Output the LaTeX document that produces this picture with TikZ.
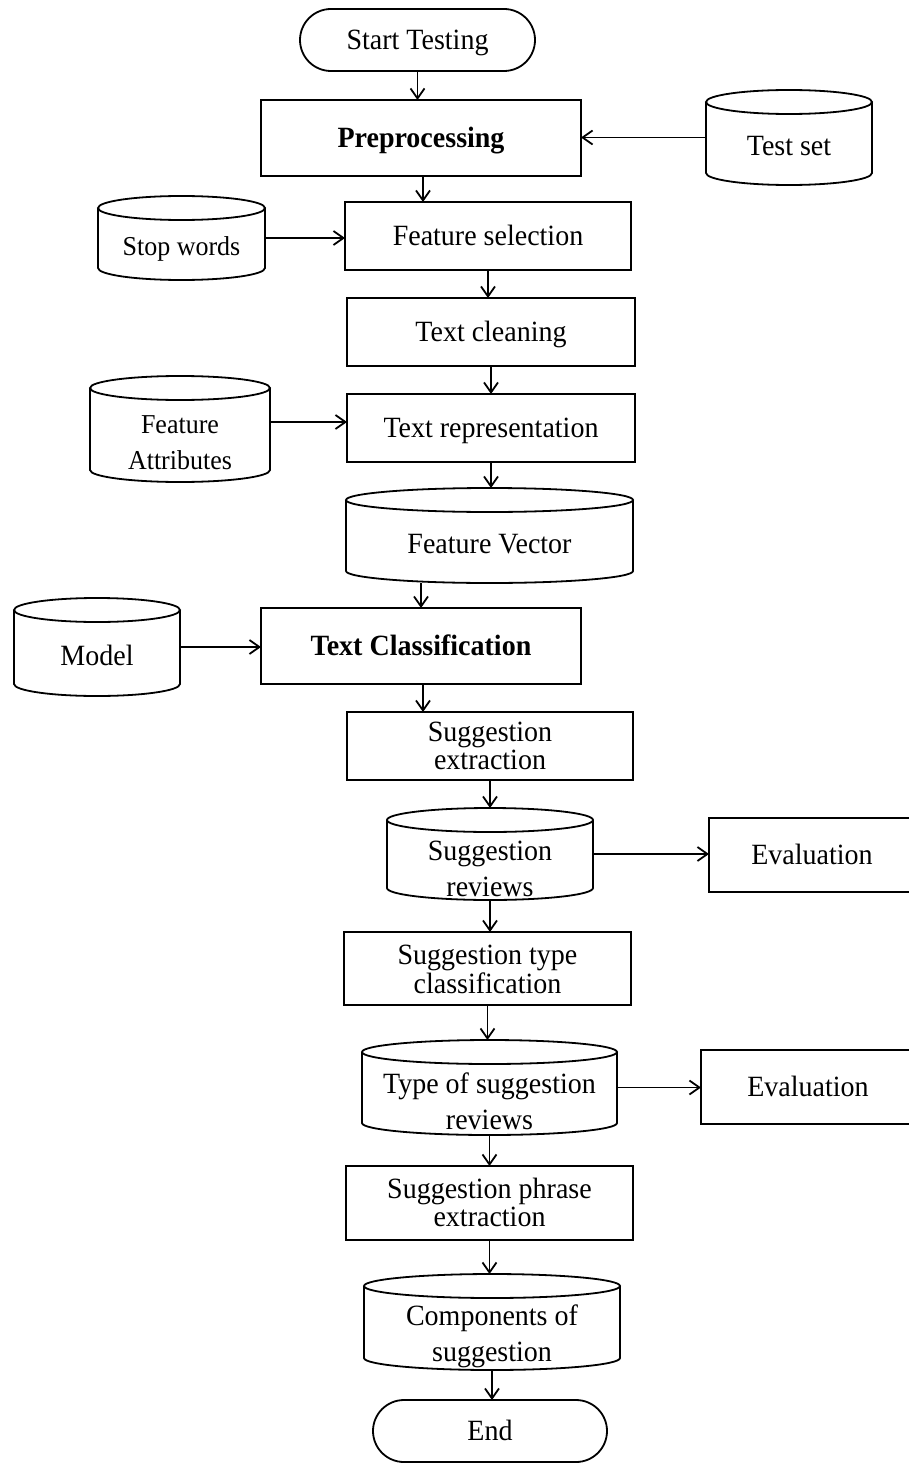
\documentclass[tikz,border=0pt]{standalone}
\usepackage{fontspec}
\usepackage{graphicx}
\setmainfont{Liberation Serif}
\usetikzlibrary{arrows.meta}

% text lines, slightly tall, first baseline on top
\newcommand\tx[1]{\scalebox{1}[1.05]{\begin{tabular}[t]{@{}c@{}}#1\end{tabular}}}

% storage drum: name, cx, cy, width, height, text offset, text style, text
\newcommand\drum[8]{%
  \node[drumbox, minimum width=#4pt, minimum height=#5pt] (#1) at (#2,#3) {};
  \draw[outline] ({#2},{#3-#5/2+12}) ellipse [x radius={#4/2}, y radius=12];
  \draw[outline] ({#2-#4/2},{#3-#5/2+12}) -- ({#2-#4/2},{#3+#5/2-12})
     arc[start angle=180, end angle=0, x radius={#4/2}, y radius=12]
     -- ({#2+#4/2},{#3-#5/2+12});
  \node[drumtext, #7] (#1-t) at (#2,{#3+#6}) {\tx{#8}};
}

\begin{document}
\begin{tikzpicture}[x=1pt, y=-1pt,
  outline/.style={line width=1.8pt, draw=black},
  drumbox/.style={inner sep=0pt, outer sep=0pt},
  drumtext/.style={inner sep=0pt, text height=19pt, text depth=0pt,
     font=\fontsize{28}{34}\selectfont},
  twolines/.style={text depth=35.7pt},
  small/.style={font=\fontsize{26}{34}\selectfont, text height=18pt},
  procbox/.style={draw, line width=1.8pt, inner sep=0pt, outer sep=0pt,
     text height=19pt, text depth=0pt, font=\fontsize{28}{26.5}\selectfont},
  pair/.style={text depth=27.8pt},
  heavy/.style={font=\fontsize{28}{26.5}\selectfont\bfseries},
  termbox/.style={procbox, rounded corners=31pt, minimum width=235pt, minimum height=62pt},
  flow/.style={line width=1.8pt, -{Straight Barb[length=10pt, width=14pt]}}
]
\useasboundingbox (0,0) rectangle (909,1463);

% terminals
\node[termbox] (start) at (417.5,40) {\tx{Start Testing}};
\node[termbox, minimum width=234pt] (end) at (490,1431) {\tx{End}};

% process boxes
\node[procbox, heavy, minimum width=320pt, minimum height=76pt] (pre) at (421,138) {\tx{Preprocessing}};
\node[procbox, minimum width=286pt, minimum height=68pt] (fs) at (488,236) {\tx{Feature selection}};
\node[procbox, minimum width=288pt, minimum height=68pt] (tc) at (491,332) {\tx{Text cleaning}};
\node[procbox, minimum width=288pt, minimum height=68pt] (tr) at (491,428) {\tx{Text representation}};
\node[procbox, heavy, minimum width=320pt, minimum height=76pt] (tcl) at (421,646) {\tx{Text Classification}};
\node[procbox, pair, minimum width=286pt, minimum height=68pt] (se) at (490,746) {\tx{Suggestion\\extraction}};
\node[procbox, minimum width=206pt, minimum height=74pt] (ev1) at (812,855) {\tx{Evaluation}};
\node[procbox, pair, minimum width=287pt, minimum height=73pt] (stc) at (487.5,968.5) {\tx{Suggestion type\\classification}};
\node[procbox, minimum width=214pt, minimum height=74pt] (ev2) at (808,1087) {\tx{Evaluation}};
\node[procbox, pair, minimum width=287pt, minimum height=74pt] (spe) at (489.5,1203) {\tx{Suggestion phrase\\extraction}};

% data stores
\drum{ts}{789}{137.5}{166}{95}{8.5}{}{Test set}
\drum{sw}{181.5}{238}{167}{84}{8}{small}{Stop words}
\drum{fa}{180}{429}{180}{106}{13.5}{small, twolines}{Feature\\Attributes}
\drum{fv}{489.5}{535.5}{287}{95}{8.5}{}{Feature Vector}
\drum{mo}{97}{647}{166}{98}{9}{}{Model}
\drum{sr}{490}{854}{206}{92}{15}{twolines}{Suggestion\\reviews}
\drum{tsr}{489.5}{1087.5}{255}{95}{14.5}{twolines}{Type of suggestion\\reviews}
\drum{cs}{492}{1322}{256}{96}{12}{twolines}{Components of\\suggestion}

% connectors
\draw[flow] (start.south) -- (start.south |- pre.north);
\draw[flow] (ts.west) -- (ts.west -| pre.east);
\draw[flow] ([xshift=2pt]pre.south) -- ([xshift=2pt]pre.south |- fs.north);
\draw[flow] (sw.east) -- (sw.east -| fs.west);
\draw[flow] (fs.south) -- (fs.south |- tc.north);
\draw[flow] (tc.south) -- (tr.north);
\draw[flow] ([yshift=7pt]fa.east) -- ([yshift=7pt]fa.east -| tr.west);
\draw[flow] (tr.south) -- (tr.south |- fv.north);
\draw[flow] (tcl.north |- fv.south) -- (tcl.north);
\draw[flow] (mo.east) -- (mo.east -| tcl.west);
\draw[flow] ([xshift=2pt]tcl.south) -- ([xshift=2pt]tcl.south |- se.north);
\draw[flow] (se.south) -- (se.south |- sr.north);
\draw[flow] (sr.east) -- (sr.east -| ev1.west);
\draw[flow] (sr.south) -- (sr.south |- stc.north);
\draw[flow] (stc.south) -- (stc.south |- tsr.north);
\draw[flow] (tsr.east) -- (tsr.east -| ev2.west);
\draw[flow] (tsr.south) -- (tsr.south |- spe.north);
\draw[flow] (spe.south) -- (spe.south |- cs.north);
\draw[flow] (cs.south) -- (cs.south |- end.north);
\end{tikzpicture}
\end{document}
